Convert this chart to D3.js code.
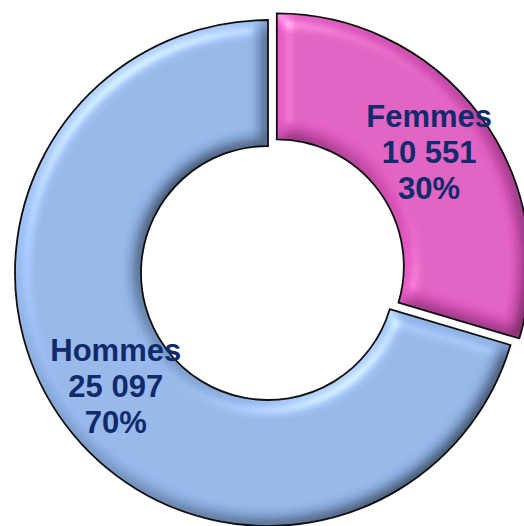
<!DOCTYPE html>
<html>
<head>
<meta charset="utf-8">
<script src="https://cdn.jsdelivr.net/npm/d3@7"></script>
<style>
    body { margin: 0; background: #fff; }
    svg { display: block; }
</style>
</head>
<body>
<div id="chart"></div>
<script>
let categories = ["Femmes", "Hommes"];
let counts = [10551, 25097];
let percentLabels = ["30%", "70%"];
let sliceColors = ["#e057c0", "#93b6ea"];

function chartConfig(){
    let width = 524;
    let height = 526;
    let cx = 268;
    let cy = 273;
    let outer = 253;
    let inner = 127;
    let explode = 11;
    let svg = d3.select("#chart")
                .append("svg")
                .attr("width", width)
                .attr("height", height);
    let container = svg.append("g")
                .attr("transform", "translate(" + [cx, cy] + ")");
    return { width, height, outer, inner, explode, svg, container };
}

function addBevel(svg){
    let f = svg.append("defs").append("filter")
            .attr("id", "bevel")
            .attr("x", "-5%").attr("y", "-5%")
            .attr("width", "110%").attr("height", "110%");
    f.append("feGaussianBlur").attr("in", "SourceAlpha").attr("stdDeviation", 8).attr("result", "blur");
    let diff = f.append("feDiffuseLighting")
            .attr("in", "blur").attr("surfaceScale", 9)
            .attr("diffuseConstant", 1).attr("lighting-color", "#fff")
            .attr("result", "diff");
    diff.append("feDistantLight").attr("azimuth", 225).attr("elevation", 55);
    f.append("feComposite").attr("in", "diff").attr("in2", "SourceGraphic")
            .attr("operator", "arithmetic")
            .attr("k1", 1.18).attr("k2", 0).attr("k3", 0).attr("k4", 0)
            .attr("result", "shaded");
    let spec = f.append("feSpecularLighting")
            .attr("in", "blur").attr("surfaceScale", 9)
            .attr("specularConstant", 0.5).attr("specularExponent", 22)
            .attr("lighting-color", "#fff").attr("result", "spec");
    spec.append("feDistantLight").attr("azimuth", 235).attr("elevation", 40);
    f.append("feComposite").attr("in", "spec").attr("in2", "SourceAlpha")
            .attr("operator", "in").attr("result", "specIn");
    f.append("feComposite").attr("in", "shaded").attr("in2", "specIn")
            .attr("operator", "arithmetic")
            .attr("k1", 0).attr("k2", 1).attr("k3", 0.6).attr("k4", 0)
            .attr("result", "lit");
    f.append("feComposite").attr("in", "lit").attr("in2", "SourceAlpha").attr("operator", "in");
}

function drawDonut(config){
    let { outer, inner, explode, svg, container } = config;
    addBevel(svg);

    let pie = d3.pie().sort(null).value(d => d)(counts);
    let arc = d3.arc().innerRadius(inner).outerRadius(outer);
    let midArc = d3.arc().innerRadius((inner + outer) / 2).outerRadius((inner + outer) / 2);

    // Femmes is pulled out of the ring
    function shift(d, i){
        if (i !== 0) return [0, 0];
        let a = (d.startAngle + d.endAngle) / 2;
        return [Math.sin(a) * explode, -Math.cos(a) * explode];
    }

    let slices = container.selectAll(".slice")
            .data(pie)
            .enter()
            .append("g")
            .attr("class", "slice")
            .attr("transform", (d, i) => "translate(" + shift(d, i) + ")");

    slices.append("path")
            .attr("d", arc)
            .style("fill", (d, i) => sliceColors[i])
            .attr("filter", "url(#bevel)");

    slices.append("path")
            .attr("d", arc)
            .style("fill", "none")
            .style("stroke", "#101010")
            .style("stroke-width", 1.8);

    let labels = slices.append("text")
            .attr("transform", d => "translate(" + midArc.centroid(d) + ")")
            .attr("text-anchor", "middle")
            .style("font-family", "'Liberation Sans', Arial, sans-serif")
            .style("font-weight", "bold")
            .style("font-size", "31px")
            .style("fill", "#0f2b6c");

    let lines = (d, i) => [categories[i], d3.format(",")(counts[i]).replace(",", " "), percentLabels[i]];
    labels.each(function(d, i){
        let t = d3.select(this);
        lines(d, i).forEach(function(s, j){
            t.append("tspan")
                .attr("x", 0)
                .attr("y", (j - 1) * 36 + 10)
                .text(s);
        });
    });
}

drawDonut(chartConfig());
</script>
</body>
</html>
